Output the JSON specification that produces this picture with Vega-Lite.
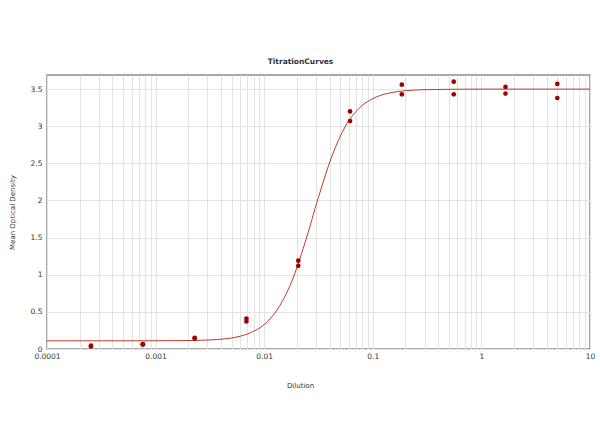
{
  "$schema": "https://vega.github.io/schema/vega-lite/v6.json",
  "autosize": {"type": "none"},
  "width": 543,
  "height": 274,
  "padding": {"left": 47, "top": 75, "right": 10, "bottom": 98},
  "background": "white",
  "config": {
    "font": "DejaVu Sans",
    "view": {"stroke": "#8c8c8c", "strokeWidth": 1.5},
    "axis": {"labelFont": "DejaVu Sans", "titleFont": "DejaVu Sans", "labelFontSize": 7.5, "titleFontSize": 7, "titleFontWeight": "normal", "labelColor": "#333333", "titleColor": "#333333", "domain": false, "ticks": false, "gridColor": "#e3e3e3", "gridWidth": 1}
  },
  "title": {"text": "TitrationCurves", "fontSize": 7.5, "fontWeight": "bold", "color": "#333333", "anchor": "middle", "offset": 10, "dx": -18},
  "datasets": {
    "curve": [
      {"dilution": 0.0001, "od": 0.110},
      {"dilution": 0.000316, "od": 0.110},
      {"dilution": 0.001, "od": 0.111},
      {"dilution": 0.00178, "od": 0.113},
      {"dilution": 0.00316, "od": 0.122},
      {"dilution": 0.00562, "od": 0.162},
      {"dilution": 0.00750, "od": 0.22},
      {"dilution": 0.0100, "od": 0.329},
      {"dilution": 0.0133, "od": 0.538},
      {"dilution": 0.0178, "od": 0.898},
      {"dilution": 0.0237, "od": 1.425},
      {"dilution": 0.0316, "od": 2.044},
      {"dilution": 0.0422, "od": 2.604},
      {"dilution": 0.0562, "od": 3.004},
      {"dilution": 0.0750, "od": 3.244},
      {"dilution": 0.100, "od": 3.372},
      {"dilution": 0.133, "od": 3.438},
      {"dilution": 0.178, "od": 3.470},
      {"dilution": 0.316, "od": 3.493},
      {"dilution": 0.562, "od": 3.498},
      {"dilution": 1.0, "od": 3.500},
      {"dilution": 3.16, "od": 3.500},
      {"dilution": 10, "od": 3.500}
    ],
    "points": [
      {"dilution": 0.000254, "od": 0.035},
      {"dilution": 0.000254, "od": 0.045},
      {"dilution": 0.000762, "od": 0.06},
      {"dilution": 0.000762, "od": 0.065},
      {"dilution": 0.00229, "od": 0.14},
      {"dilution": 0.00229, "od": 0.15},
      {"dilution": 0.00686, "od": 0.41},
      {"dilution": 0.00686, "od": 0.37},
      {"dilution": 0.0206, "od": 1.19},
      {"dilution": 0.0206, "od": 1.12},
      {"dilution": 0.0617, "od": 3.20},
      {"dilution": 0.0617, "od": 3.07},
      {"dilution": 0.185, "od": 3.56},
      {"dilution": 0.185, "od": 3.43},
      {"dilution": 0.556, "od": 3.60},
      {"dilution": 0.556, "od": 3.43},
      {"dilution": 1.667, "od": 3.53},
      {"dilution": 1.667, "od": 3.44},
      {"dilution": 5, "od": 3.57},
      {"dilution": 5, "od": 3.38}
    ]
  },
  "encoding": {
    "x": {"field": "dilution", "type": "quantitative",
      "scale": {"type": "log", "domain": [0.0001, 10], "nice": false},
      "axis": {"title": "Dilution", "titleX": 253, "titleY": 36, "titleBaseline": "middle", "values": [0.0001, 0.0002, 0.0003, 0.0004, 0.0005, 0.0006, 0.0007, 0.0008, 0.0009, 0.001, 0.002, 0.003, 0.004, 0.005, 0.006, 0.007, 0.008, 0.009, 0.01, 0.02, 0.03, 0.04, 0.05, 0.06, 0.07, 0.08, 0.09, 0.1, 0.2, 0.3, 0.4, 0.5, 0.6, 0.7, 0.8, 0.9, 1, 2, 3, 4, 5, 6, 7, 8, 9, 10],
        "labelExpr": "abs(log(datum.value)/log(10) - round(log(datum.value)/log(10))) < 0.0001 ? format(datum.value, '~g') : ''",
        "labelPadding": 3, "labelOverlap": false, "labelBound": false, "labelFlush": false}},
    "y": {"field": "od", "type": "quantitative",
      "scale": {"domain": [0, 3.69], "nice": false, "zero": true},
      "axis": {"title": "Mean Optical Density", "titleX": -35, "titleY": 137, "titleBaseline": "middle", "values": [0, 0.5, 1, 1.5, 2, 2.5, 3, 3.5], "labelExpr": "format(datum.value, '~g')", "labelOverlap": false, "labelPadding": 5}}
  },
  "layer": [
    {
      "data": {"name": "curve"},
      "mark": {"type": "line", "color": "#c0392b", "strokeWidth": 1, "interpolate": "monotone"}
    },
    {
      "data": {"name": "points"},
      "mark": {"type": "circle", "color": "#a00000", "opacity": 1, "size": 22}
    }
  ]
}
